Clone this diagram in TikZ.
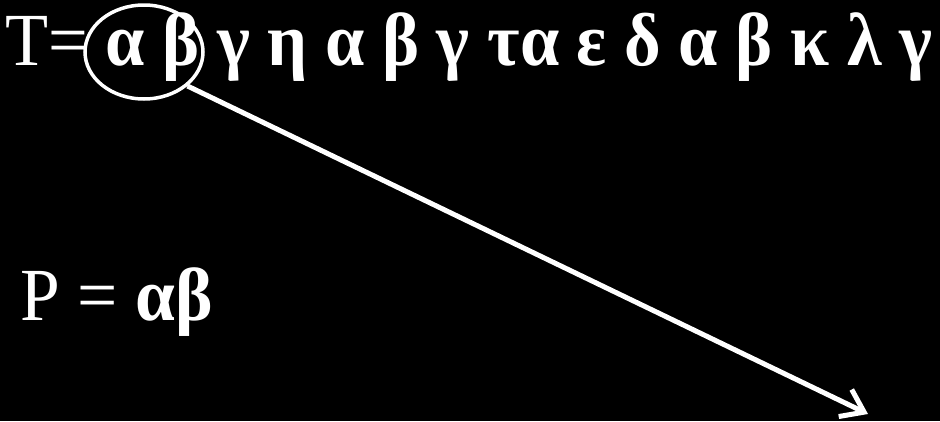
\documentclass[tikz,border=0pt]{standalone}
\usepackage{fontspec}
\newfontfamily\tms{Liberation Serif}
\usetikzlibrary{arrows.meta}
\usetikzlibrary{shapes.geometric}
\tikzset{
  txt/.style={text=white, font=\tms\fontsize{75}{80}\selectfont, inner sep=0pt},
  mark ring/.style={draw=white, line width=3.5pt, ellipse, minimum width=118pt, minimum height=94pt, inner sep=0pt},
  pointer/.style={draw=white, line width=5pt, -{Straight Barb[length=21pt, width=30pt]}}
}
\newcommand{\gk}[1]{\textbf{#1}}
\begin{document}
\begin{tikzpicture}[x=1pt, y=-1pt]
    \fill[black] (0,0) rectangle (940,421);
    \useasboundingbox (0,0) rectangle (940,421);
    \node[txt, anchor=base west] (text) at (5,65)
      {\resizebox{927pt}{\height}{T= \gk{α β γ η α β γ τα ε δ α β κ λ γ}}};
    \node[txt, anchor=base west] (pat) at (20,320)
      {\resizebox{193pt}{\height}{P = \gk{αβ}}};
    \node[mark ring] (sel) at (144,52) {};
    \coordinate (tip) at (868,414);
    \draw[pointer] (sel.-38) -- (tip);
  \end{tikzpicture}
\end{document}
